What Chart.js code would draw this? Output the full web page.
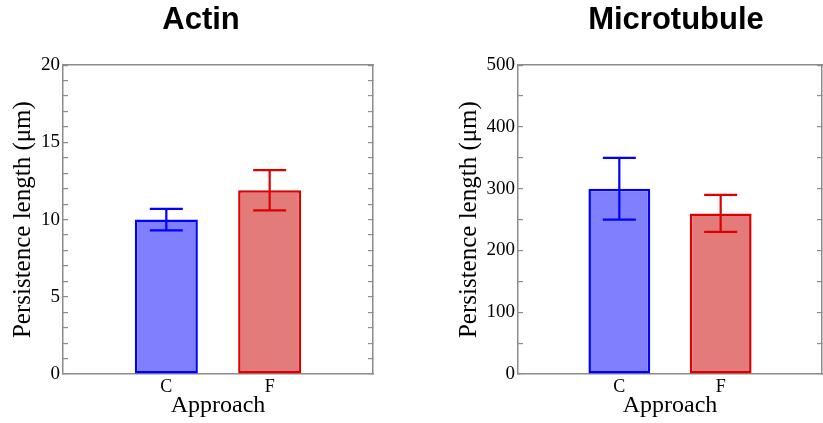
<!DOCTYPE html>
<html>
<head>
<meta charset="utf-8">
<script src="https://cdn.jsdelivr.net/npm/chart.js@4/dist/chart.umd.min.js"></script>
<style>
  html, body { margin: 0; padding: 0; background: #fff; overflow: hidden; width: 823px; height: 423px; }
  #wrap { position: relative; width: 823px; height: 423px; overflow: hidden; }
  #c1 { position: absolute; left: 0; top: 0; }
  #c2 { position: absolute; left: 411px; top: 0; }
</style>
</head>
<body>
<div id="wrap">
  <canvas id="c1" width="402" height="423"></canvas>
  <canvas id="c2" width="530" height="423"></canvas>
</div>
<script>
// ---- data ----
const categories = ['', 'C', 'F', ''];
const actinValues = [null, 10, 11.9, null];
const actinErrors = [null, 0.7, 1.3, null];
const mtValues = [null, 300, 260, null];
const mtErrors = [null, 50, 30, null];
const actinTickLabels = [0, 5, 10, 15, 20];
const mtTickLabels = [0, 100, 200, 300, 400, 500];
const titles = ['Actin', 'Microtubule'];
const yTitle = 'Persistence length (μm)';
const xTitle = 'Approach';

const fillColors = [null, 'rgb(128,128,255)', 'rgb(227,123,123)', null];
const lineColors = [null, '#0000ff', '#dd0000', null];
const frameColor = '#8c8c8c';

const errorBarPlugin = {
  id: 'errorBars',
  afterDatasetsDraw(chart, args, opts) {
    const ctx = chart.ctx;
    const yScale = chart.scales.y;
    chart.data.datasets.forEach((ds, di) => {
      const meta = chart.getDatasetMeta(di);
      const errs = ds.errors || [];
      meta.data.forEach((bar, i) => {
        const v = ds.data[i];
        const e = errs[i];
        if (v == null || e == null) return;
        const x = bar.x;
        const yHi = yScale.getPixelForValue(v + e);
        const yLo = yScale.getPixelForValue(v - e);
        const half = opts.capHalf || 16.5;
        ctx.save();
        ctx.strokeStyle = ds.borderColor[i];
        ctx.lineWidth = 2.2;
        ctx.beginPath();
        ctx.moveTo(x, yHi); ctx.lineTo(x, yLo);
        ctx.moveTo(x - half, yHi); ctx.lineTo(x + half, yHi);
        ctx.moveTo(x - half, yLo); ctx.lineTo(x + half, yLo);
        ctx.stroke();
        ctx.restore();
      });
    });
  }
};

function makeChart(canvasId, title, values, errors, yMax, step, labels, leftW, rightW, yTitlePad) {
  return new Chart(document.getElementById(canvasId), {
    type: 'bar',
    data: {
      labels: categories,
      datasets: [{
        data: values,
        errors: errors,
        backgroundColor: fillColors,
        borderColor: lineColors,
        borderWidth: 2.5,
        borderSkipped: false,
        barPercentage: 0.61,
        categoryPercentage: 1.0
      }]
    },
    options: {
      responsive: false,
      animation: false,
      devicePixelRatio: 1,
      layout: { padding: 0 },
      plugins: {
        legend: { display: false },
        tooltip: { enabled: false },
        title: {
          display: true,
          text: title,
          color: '#000',
          font: { family: '"Liberation Sans", Arial, sans-serif', size: 31, weight: 'bold' },
          padding: { top: 2, bottom: 26 }
        },
        errorBars: { capHalf: 16.5 }
      },
      scales: {
        x: {
          type: 'category',
          offset: false,
          grid: { display: false, drawTicks: false },
          border: { display: true, color: frameColor, width: 1.5 },
          ticks: {
            color: '#000',
            padding: 2,
            maxRotation: 0,
            autoSkip: false,
            font: { family: '"Liberation Serif", "Times New Roman", serif', size: 18 }
          },
          title: {
            display: true,
            text: xTitle,
            color: '#000',
            padding: { top: 0, bottom: 3 },
            font: { family: '"Liberation Serif", "Times New Roman", serif', size: 24 }
          },
          afterFit(scale) { scale.height = 49; }
        },
        x2: {
          type: 'linear',
          position: 'top',
          min: 0, max: 1,
          grid: { display: false, drawTicks: false },
          border: { display: true, color: frameColor, width: 1.5 },
          ticks: { display: false },
          afterFit(scale) { scale.height = 0; }
        },
        y: {
          type: 'linear',
          position: 'left',
          min: 0, max: yMax,
          grid: { display: true, drawOnChartArea: false, drawTicks: true, tickLength: -5, color: frameColor, lineWidth: 1.2 },
          border: { display: true, color: frameColor, width: 1.5 },
          ticks: {
            stepSize: step,
            color: '#000',
            padding: 8,
            autoSkip: false,
            font: { family: '"Liberation Serif", "Times New Roman", serif', size: 19 },
            callback: (v) => labels.includes(v) ? String(v) : ''
          },
          title: {
            display: true,
            text: yTitle,
            color: '#000',
            padding: { top: yTitlePad, bottom: 0 },
            font: { family: '"Liberation Serif", "Times New Roman", serif', size: 25 }
          },
          afterFit(scale) { scale.width = leftW; }
        },
        y2: {
          type: 'linear',
          position: 'right',
          min: 0, max: yMax,
          grid: { display: true, drawOnChartArea: false, drawTicks: true, tickLength: -5, color: frameColor, lineWidth: 1.2 },
          border: { display: true, color: frameColor, width: 1.5 },
          ticks: { display: false, stepSize: step, autoSkip: false },
          afterFit(scale) { scale.width = rightW; }
        }
      }
    },
    plugins: [errorBarPlugin]
  });
}

makeChart('c1', titles[0], actinValues, actinErrors, 20, 1, actinTickLabels, 63, 29, 8);
makeChart('c2', titles[1], mtValues, mtErrors, 500, 50, mtTickLabels, 107, 119, 43);
</script>
</body>
</html>
